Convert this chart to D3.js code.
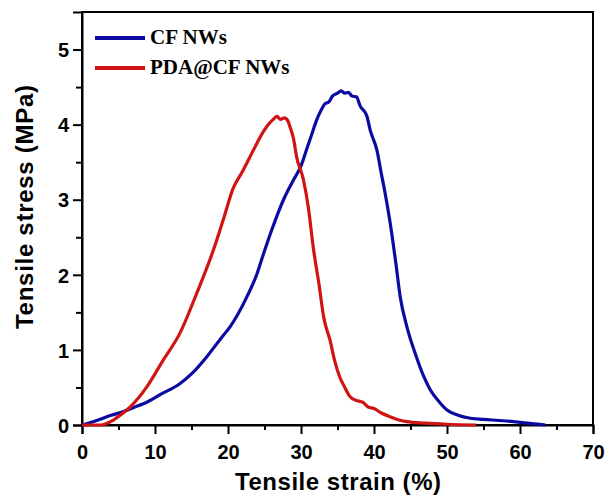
<!DOCTYPE html>
<html>
<head>
<meta charset="utf-8">
<script src="https://cdn.jsdelivr.net/npm/d3@7"></script>
<style>
  body { margin: 0; background: #fff; }
  svg { display: block; }
</style>
</head>
<body>
<div id="chart"></div>
<script>
// curve data: [strain %, stress MPa]
var cfStrain = [0, 2, 4, 5.7, 7, 9, 11, 13.4, 15, 17.1, 19, 20.3, 22.6, 24, 24.6, 26, 27.6, 28.9, 30, 30.8, 31.5, 32.1, 32.8, 33.3, 33.8, 34.3, 35, 35.5, 36, 36.5, 37, 37.6, 38.1, 39, 39.5, 40.4, 41, 41.5, 42.2, 43, 43.6, 44.5, 45.8, 46.8, 47.7, 49, 50, 51.5, 53.2, 55, 57.7, 60, 62, 63.5];
var cfStress = [0, 0.06, 0.13, 0.18, 0.23, 0.31, 0.42, 0.55, 0.68, 0.91, 1.15, 1.31, 1.71, 2.02, 2.2, 2.6, 3.0, 3.25, 3.45, 3.68, 3.88, 4.05, 4.2, 4.28, 4.3, 4.38, 4.42, 4.45, 4.42, 4.43, 4.38, 4.37, 4.25, 4.12, 3.92, 3.66, 3.35, 3.1, 2.7, 2.15, 1.7, 1.31, 0.91, 0.65, 0.47, 0.3, 0.2, 0.13, 0.09, 0.075, 0.057, 0.035, 0.015, 0];

var pdaStrain = [0, 2.5, 4.3, 5.5, 6.6, 8.9, 11.1, 13.4, 15.7, 18, 19.5, 20.7, 22, 23, 24, 24.8, 25.5, 26.2, 26.7, 27.2, 27.7, 28.2, 28.5, 29, 29.4, 30.3, 31, 31.7, 32.5, 33.1, 34, 34.6, 35.3, 36, 36.7, 37.5, 38.5, 39.2, 40, 41, 42.2, 43.3, 44.5, 47, 50, 54];
var pdaStress = [0, 0, 0.066, 0.15, 0.24, 0.51, 0.86, 1.22, 1.75, 2.33, 2.78, 3.15, 3.38, 3.57, 3.76, 3.9, 4.0, 4.07, 4.11, 4.07, 4.09, 4.05, 3.97, 3.8, 3.57, 3.28, 2.9, 2.35, 1.85, 1.44, 1.12, 0.86, 0.64, 0.5, 0.38, 0.33, 0.3, 0.24, 0.22, 0.16, 0.11, 0.07, 0.045, 0.025, 0.01, 0];

var seriesNames = ["CF NWs", "PDA@CF NWs"];
var seriesColors = ["#0b0ba3", "#d01414"];
var xTicks = [0, 10, 20, 30, 40, 50, 60, 70];
var yTicks = [0, 1, 2, 3, 4, 5];

var W = 608, H = 499;
var margin = {top: 12, right: 15, bottom: 74, left: 82},
    width = W - margin.left - margin.right,
    height = H - margin.top - margin.bottom;

var svg = d3.select("#chart")
  .append("svg")
    .attr("width", W)
    .attr("height", H);

var g = svg.append("g")
    .attr("transform", "translate(" + margin.left + "," + margin.top + ")");

var x = d3.scaleLinear().domain([0, 70]).range([0, width]);
var y = d3.scaleLinear().domain([0, 5.5]).range([height, 0]);

// frame (top and right without ticks)
g.append("rect")
  .attr("width", width)
  .attr("height", height)
  .attr("fill", "none")
  .attr("stroke", "#000")
  .attr("stroke-width", 2);

// minor ticks
g.append("g")
  .attr("transform", "translate(0," + height + ")")
  .call(d3.axisBottom(x).tickValues(d3.range(5, 70, 10)).tickSize(5).tickFormat(""))
  .call(function(a) { a.select(".domain").remove(); });
g.append("g")
  .call(d3.axisLeft(y).tickValues([0.5, 1.5, 2.5, 3.5, 4.5]).tickSize(6).tickFormat(""))
  .call(function(a) { a.select(".domain").remove(); });

// major ticks
var xAxis = g.append("g")
  .attr("transform", "translate(0," + height + ")")
  .call(d3.axisBottom(x).tickValues(xTicks).tickSize(9).tickPadding(11).tickFormat(d3.format("d")));
var yAxis = g.append("g")
  .call(d3.axisLeft(y).tickValues(yTicks).tickSize(9).tickPadding(4).tickFormat(d3.format("d")));

[xAxis, yAxis].forEach(function(a) {
  a.select(".domain").attr("stroke-width", 2);
  a.selectAll("text")
    .attr("font-family", "Liberation Sans, Arial, sans-serif")
    .attr("font-weight", "bold")
    .attr("font-size", 20)
    .attr("fill", "#000");
});
g.selectAll(".tick line").attr("stroke-width", 2);
yAxis.selectAll("text").attr("dy", "0.36em");

// curves
var line = d3.line()
  .x(function(d) { return x(d[0]); })
  .y(function(d) { return y(d[1]); })
  .curve(d3.curveMonotoneX);

var cfData = cfStrain.map(function(s, i) { return [s, cfStress[i]]; });
var pdaData = pdaStrain.map(function(s, i) { return [s, pdaStress[i]]; });

g.append("path")
  .datum(cfData)
  .attr("d", line)
  .attr("fill", "none")
  .attr("stroke", seriesColors[0])
  .attr("stroke-width", 3.2)
  .attr("stroke-linejoin", "round");

g.append("path")
  .datum(pdaData)
  .attr("d", line)
  .attr("fill", "none")
  .attr("stroke", seriesColors[1])
  .attr("stroke-width", 3.2)
  .attr("stroke-linejoin", "round");

// legend
var legend = svg.append("g");
seriesNames.forEach(function(name, i) {
  var ly = 38 + i * 30;
  legend.append("line")
    .attr("x1", 95).attr("x2", 145)
    .attr("y1", ly).attr("y2", ly)
    .attr("stroke", seriesColors[i])
    .attr("stroke-width", 4);
  legend.append("text")
    .attr("x", 150)
    .attr("y", ly + 6)
    .attr("font-family", "Liberation Serif, Times New Roman, serif")
    .attr("font-weight", "bold")
    .attr("font-size", 21)
    .text(name);
});

// axis titles
svg.append("text")
  .attr("x", 338)
  .attr("y", 490)
  .attr("text-anchor", "middle")
  .attr("font-family", "Liberation Sans, Arial, sans-serif")
  .attr("font-weight", "bold")
  .attr("font-size", 24)
  .attr("textLength", 206)
  .text("Tensile strain (%)");

svg.append("text")
  .attr("transform", "translate(33,207) rotate(-90)")
  .attr("text-anchor", "middle")
  .attr("font-family", "Liberation Sans, Arial, sans-serif")
  .attr("font-weight", "bold")
  .attr("font-size", 24)
  .attr("textLength", 244)
  .text("Tensile stress (MPa)");
</script>
</body>
</html>
